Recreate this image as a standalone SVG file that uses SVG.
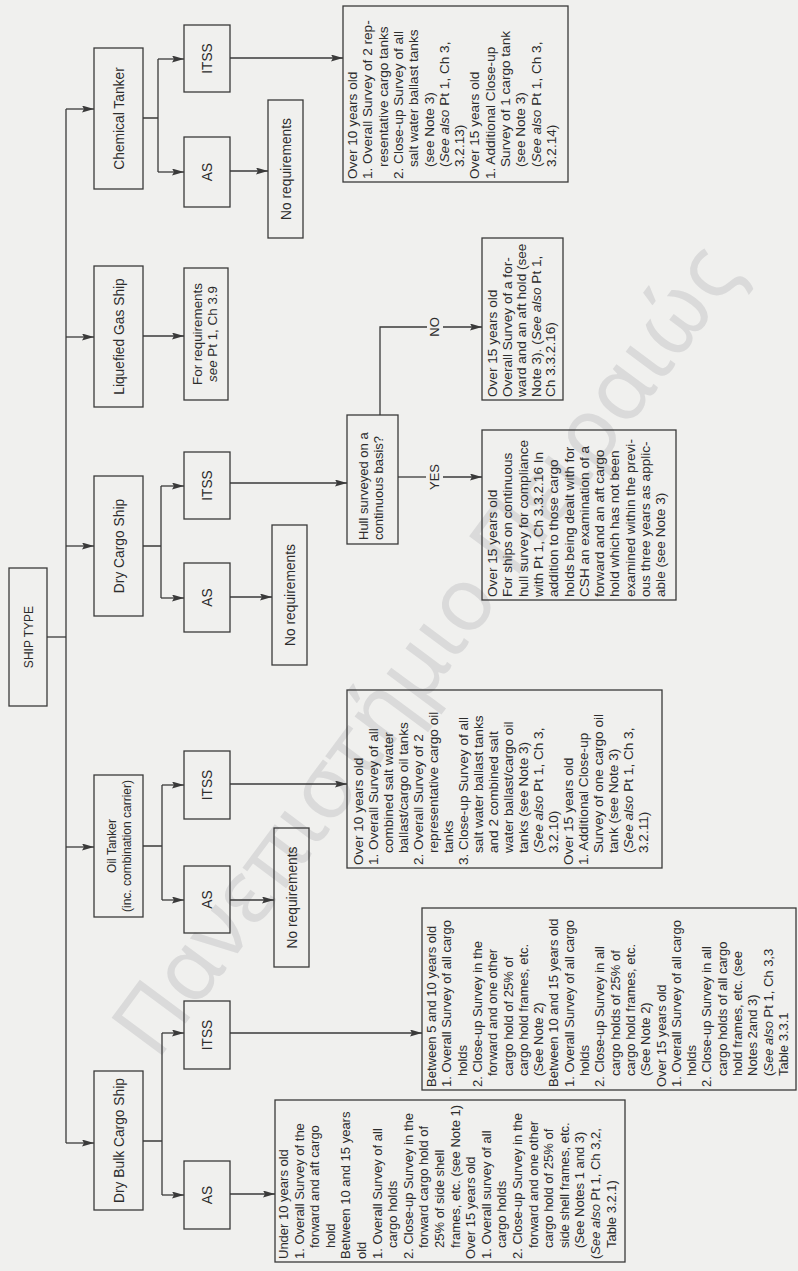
<svg xmlns="http://www.w3.org/2000/svg" width="798" height="1271" viewBox="0 0 798 1271">
  <style>
    .box{fill:none;stroke:#3a3a3a;stroke-width:1.3}
    .ln{fill:none;stroke:#3a3a3a;stroke-width:1.3}
    .arr{marker-end:url(#ah)}
    text{font-family:"Liberation Sans",Arial,sans-serif;fill:#2c2c2c}
    .lbl{font-size:13.8px;text-anchor:middle}
    .sm{font-size:12px;text-anchor:middle}
    .q{font-size:13px}
    .body{font-size:13.6px}
    .bodys{font-size:13px}
    .it{font-style:italic}
    .wm{font-family:"Noto Sans","DejaVu Sans",sans-serif;font-size:88px;fill:#dadada}
  </style>
  <defs>
    <marker id="ah" viewBox="0 0 12 7" refX="12" refY="3.5" markerWidth="12" markerHeight="7" markerUnits="userSpaceOnUse" orient="auto">
      <path d="M0,0 L12,3.5 L0,7 L2,3.5 z" fill="#3a3a3a"/>
    </marker>
  </defs>

  <rect x="0" y="0" width="798" height="1271" fill="#f0f0ee"/>
  <text class="wm" transform="translate(157 1062) rotate(-53.4)">Πανεπιστήμιο Πειραιώς</text>

  <!-- chart is laid out landscape and turned a quarter turn anticlockwise -->
  <g transform="translate(0 1271) rotate(-90)">

    <g id="connectors">
      <path class="ln" d="M634,47 V66"/>
      <path class="ln" d="M128,66 H1162"/>
      <path class="ln arr" d="M128,66 V94"/>
      <path class="ln arr" d="M424,66 V94"/>
      <path class="ln arr" d="M725,66 V94"/>
      <path class="ln arr" d="M934,66 V94"/>
      <path class="ln arr" d="M1162,66 V94"/>

      <!-- dry bulk -->
      <path class="ln" d="M130,143 V162 M76,162 H238"/>
      <path class="ln arr" d="M76,162 V184"/>
      <path class="ln arr" d="M238,162 V184"/>
      <path class="ln arr" d="M77,230 V275"/>
      <path class="ln arr" d="M238,230 V422"/>

      <!-- oil tanker -->
      <path class="ln" d="M425,143 V162 M371,162 H486"/>
      <path class="ln arr" d="M371,162 V184"/>
      <path class="ln arr" d="M486,162 V184"/>
      <path class="ln arr" d="M371,230 V274"/>
      <path class="ln arr" d="M487,230 V347"/>

      <!-- dry cargo -->
      <path class="ln" d="M725,143 V161 M673,161 H785"/>
      <path class="ln arr" d="M673,161 V184"/>
      <path class="ln arr" d="M785,161 V184"/>
      <path class="ln arr" d="M674,230 V272"/>
      <path class="ln arr" d="M788,230 V347"/>
      <path class="ln" d="M794,398 V426"/>
      <path class="ln arr" d="M794,443 V482"/>
      <path class="ln" d="M856,380 H944 V427"/>
      <path class="ln arr" d="M944,443 V482"/>

      <!-- liquefied gas -->
      <path class="ln arr" d="M935,143 V184"/>

      <!-- chemical -->
      <path class="ln" d="M1153,143 V158 M1099,158 H1212"/>
      <path class="ln arr" d="M1099,158 V184"/>
      <path class="ln arr" d="M1212,158 V184"/>
      <path class="ln arr" d="M1100,230 V268"/>
      <path class="ln arr" d="M1213,230 V343"/>

      <text class="q" x="794" y="439" text-anchor="middle">YES</text>
      <text class="q" x="944" y="439" text-anchor="middle">NO</text>
    </g>

    <g id="ship-type">
      <rect class="box" x="565" y="9" width="138" height="38"/>
      <text class="lbl" x="634" y="32.5" style="font-size:12px">SHIP TYPE</text>
    </g>

    <g id="dry-bulk">
      <rect class="box" x="61" y="94" width="139" height="49"/>
      <text class="lbl" x="130.5" y="123.5">Dry Bulk Cargo Ship</text>
    </g>
    <g id="oil-tanker">
      <rect class="box" x="354" y="94" width="142" height="49"/>
      <text class="sm" x="425" y="116">Oil Tanker</text>
      <text class="sm" x="425" y="131">(inc. combination carrier)</text>
    </g>
    <g id="dry-cargo">
      <rect class="box" x="655" y="94" width="140" height="49"/>
      <text class="lbl" x="725" y="123.5">Dry Cargo Ship</text>
    </g>
    <g id="liquefied-gas">
      <rect class="box" x="864" y="94" width="141" height="49"/>
      <text class="lbl" x="934.5" y="123.5">Liquefied Gas Ship</text>
    </g>
    <g id="chemical">
      <rect class="box" x="1082" y="94" width="141" height="49"/>
      <text class="lbl" x="1152.5" y="123.5">Chemical Tanker</text>
    </g>

    <g id="db-as">
      <rect class="box" x="42" y="184" width="68" height="46"/>
      <text class="lbl" x="76" y="212">AS</text>
    </g>
    <g id="db-itss">
      <rect class="box" x="202" y="184" width="68" height="46"/>
      <text class="lbl" x="236" y="212">ITSS</text>
    </g>
    <g id="oil-as">
      <rect class="box" x="338" y="184" width="67" height="46"/>
      <text class="lbl" x="371.5" y="212">AS</text>
    </g>
    <g id="oil-itss">
      <rect class="box" x="452" y="184" width="68" height="46"/>
      <text class="lbl" x="486" y="212">ITSS</text>
    </g>
    <g id="dc-as">
      <rect class="box" x="639" y="184" width="69" height="46"/>
      <text class="lbl" x="673.5" y="212">AS</text>
    </g>
    <g id="dc-itss">
      <rect class="box" x="752" y="184" width="67" height="46"/>
      <text class="lbl" x="785.5" y="212">ITSS</text>
    </g>
    <g id="lg-req">
      <rect class="box" x="871" y="184" width="132" height="44"/>
      <text class="lbl" x="937" y="202" style="font-size:13.4px">For requirements</text>
      <text class="lbl" x="937" y="217" style="font-size:13.4px"><tspan class="it">see</tspan> Pt 1, Ch 3.9</text>
    </g>
    <g id="chem-as">
      <rect class="box" x="1064" y="184" width="70" height="46"/>
      <text class="lbl" x="1099" y="212">AS</text>
    </g>
    <g id="chem-itss">
      <rect class="box" x="1179" y="184" width="67" height="46"/>
      <text class="lbl" x="1212.5" y="212">ITSS</text>
    </g>

    <g id="oil-noreq">
      <rect class="box" x="304" y="274" width="139" height="35"/>
      <text class="lbl" x="373.5" y="296.5">No requirements</text>
    </g>
    <g id="dc-noreq">
      <rect class="box" x="606" y="272" width="140" height="35"/>
      <text class="lbl" x="676" y="294.5">No requirements</text>
    </g>
    <g id="chem-noreq">
      <rect class="box" x="1033" y="268" width="138" height="35"/>
      <text class="lbl" x="1102" y="290.5">No requirements</text>
    </g>

    <g id="hull-question">
      <rect class="box" x="727" y="347" width="129" height="51"/>
      <text class="q" x="731" y="368">Hull surveyed on a</text>
      <text class="q" x="731" y="383">continuous basis?</text>
    </g>

    <g id="db-as-req">
      <rect class="box" x="9" y="275" width="162" height="350"/>
      <text class="bodys">
        <tspan x="12" y="288">Under 10 years old</tspan>
        <tspan x="12" dy="15.6">1. Overall Survey of the</tspan>
        <tspan x="23" dy="15.6">forward and aft cargo</tspan>
        <tspan x="23" dy="15.6">hold</tspan>
        <tspan x="12" dy="15.6">Between 10 and 15 years</tspan>
        <tspan x="12" dy="15.6">old</tspan>
        <tspan x="12" dy="15.6">1. Overall Survey of all</tspan>
        <tspan x="23" dy="15.6">cargo holds</tspan>
        <tspan x="12" dy="15.6">2. Close-up Survey in the</tspan>
        <tspan x="23" dy="15.6">forward cargo hold of</tspan>
        <tspan x="23" dy="15.6">25% of side shell</tspan>
        <tspan x="23" dy="15.6">frames, etc. (see Note 1)</tspan>
        <tspan x="12" dy="15.6">Over 15 years old</tspan>
        <tspan x="12" dy="15.6">1. Overall survey of all</tspan>
        <tspan x="23" dy="15.6">cargo holds</tspan>
        <tspan x="12" dy="15.6">2. Close-up Survey in the</tspan>
        <tspan x="23" dy="15.6">forward and one other</tspan>
        <tspan x="23" dy="15.6">cargo hold of 25% of</tspan>
        <tspan x="23" dy="15.6">side shell frames, etc.</tspan>
        <tspan x="23" dy="15.6">(See Notes 1 and 3)</tspan>
        <tspan x="12" dy="15.6">(<tspan class="it">See also</tspan> Pt 1, Ch 3,2,</tspan>
        <tspan x="23" dy="15.6">Table 3.2.1)</tspan>
      </text>
    </g>

    <g id="db-itss-req">
      <rect class="box" x="181" y="422" width="182" height="374"/>
      <text class="bodys">
        <tspan x="184" y="436">Between 5 and 10 years old</tspan>
        <tspan x="184" dy="15.3">1. Overall Survey of all cargo</tspan>
        <tspan x="195" dy="15.3">holds</tspan>
        <tspan x="184" dy="15.3">2. Close-up Survey in the</tspan>
        <tspan x="195" dy="15.3">forward and one other</tspan>
        <tspan x="195" dy="15.3">cargo hold of 25% of</tspan>
        <tspan x="195" dy="15.3">cargo hold frames, etc.</tspan>
        <tspan x="195" dy="15.3">(See Note 2)</tspan>
        <tspan x="184" dy="15.3">Between 10 and 15 years old</tspan>
        <tspan x="184" dy="15.3">1. Overall Survey of all cargo</tspan>
        <tspan x="195" dy="15.3">holds</tspan>
        <tspan x="184" dy="15.3">2. Close-up Survey in all</tspan>
        <tspan x="195" dy="15.3">cargo holds of 25% of</tspan>
        <tspan x="195" dy="15.3">cargo hold frames, etc.</tspan>
        <tspan x="195" dy="15.3">(See Note 2)</tspan>
        <tspan x="184" dy="15.3">Over 15 years old</tspan>
        <tspan x="184" dy="15.3">1. Overall Survey of all cargo</tspan>
        <tspan x="195" dy="15.3">holds</tspan>
        <tspan x="184" dy="15.3">2. Close-up Survey in all</tspan>
        <tspan x="195" dy="15.3">cargo holds of all cargo</tspan>
        <tspan x="195" dy="15.3">hold frames, etc. (see</tspan>
        <tspan x="195" dy="15.3">Notes 2and 3)</tspan>
        <tspan x="195" dy="15.3">(<tspan class="it">See also</tspan> Pt 1, Ch 3,3</tspan>
        <tspan x="195" dy="15.3">Table 3.3.1</tspan>
      </text>
    </g>

    <g id="oil-itss-req">
      <rect class="box" x="403" y="347" width="178" height="315"/>
      <text class="body">
        <tspan x="406" y="363">Over 10 years old</tspan>
        <tspan x="406" dy="15">1. Overall Survey of all</tspan>
        <tspan x="418" dy="15">combined salt water</tspan>
        <tspan x="418" dy="15">ballast/cargo oil tanks</tspan>
        <tspan x="406" dy="15">2. Overall Survey of 2</tspan>
        <tspan x="418" dy="15">representative cargo oil</tspan>
        <tspan x="418" dy="15">tanks</tspan>
        <tspan x="406" dy="15">3. Close-up Survey of all</tspan>
        <tspan x="418" dy="15">salt water ballast tanks</tspan>
        <tspan x="418" dy="15">and 2 combined salt</tspan>
        <tspan x="418" dy="15">water ballast/cargo oil</tspan>
        <tspan x="418" dy="15">tanks (see Note 3)</tspan>
        <tspan x="418" dy="15">(<tspan class="it">See also</tspan> Pt 1, Ch 3,</tspan>
        <tspan x="418" dy="15">3.2.10)</tspan>
        <tspan x="406" dy="15">Over 15 years old</tspan>
        <tspan x="406" dy="15">1. Additional Close-up</tspan>
        <tspan x="418" dy="15">Survey of one cargo oil</tspan>
        <tspan x="418" dy="15">tank (see Note 3)</tspan>
        <tspan x="418" dy="15">(<tspan class="it">See also</tspan> Pt 1, Ch 3,</tspan>
        <tspan x="418" dy="15">3.2.11)</tspan>
      </text>
    </g>

    <g id="csh-yes">
      <rect class="box" x="671" y="482" width="170" height="194"/>
      <text class="body">
        <tspan x="674" y="497">Over 15 years old</tspan>
        <tspan x="674" dy="15.3">For ships on continuous</tspan>
        <tspan x="674" dy="15.3">hull survey for compliance</tspan>
        <tspan x="674" dy="15.3">with Pt 1, Ch 3.3.2.16 In</tspan>
        <tspan x="674" dy="15.3">addition to those cargo</tspan>
        <tspan x="674" dy="15.3">holds being dealt with for</tspan>
        <tspan x="674" dy="15.3">CSH an examination of a</tspan>
        <tspan x="674" dy="15.3">forward and an aft cargo</tspan>
        <tspan x="674" dy="15.3">hold which has not been</tspan>
        <tspan x="674" dy="15.3">examined within the previ-</tspan>
        <tspan x="674" dy="15.3">ous three years as applic-</tspan>
        <tspan x="674" dy="15.3">able (see Note 3)</tspan>
      </text>
    </g>

    <g id="csh-no">
      <rect class="box" x="871" y="482" width="162" height="81"/>
      <text class="body">
        <tspan x="874" y="497">Over 15 years old</tspan>
        <tspan x="874" dy="14.6">Overall Survey of a for-</tspan>
        <tspan x="874" dy="14.6">ward and an aft hold (see</tspan>
        <tspan x="874" dy="14.6">Note 3).  (<tspan class="it">See also</tspan> Pt 1,</tspan>
        <tspan x="874" dy="14.6">Ch 3.3.2.16)</tspan>
      </text>
    </g>

    <g id="chem-itss-req">
      <rect class="box" x="1089" y="343" width="176" height="225"/>
      <text class="body">
        <tspan x="1092" y="357">Over 10 years old</tspan>
        <tspan x="1092" dy="15.3">1. Overall Survey of 2 rep-</tspan>
        <tspan x="1104" dy="15.3">resentative cargo tanks</tspan>
        <tspan x="1092" dy="15.3">2. Close-up Survey of all</tspan>
        <tspan x="1104" dy="15.3">salt water ballast tanks</tspan>
        <tspan x="1104" dy="15.3">(see Note 3)</tspan>
        <tspan x="1104" dy="15.3">(<tspan class="it">See also</tspan> Pt 1, Ch 3,</tspan>
        <tspan x="1104" dy="15.3">3.2.13)</tspan>
        <tspan x="1092" dy="15.3">Over 15 years old</tspan>
        <tspan x="1092" dy="15.3">1. Additional Close-up</tspan>
        <tspan x="1104" dy="15.3">Survey of 1 cargo tank</tspan>
        <tspan x="1104" dy="15.3">(see Note 3)</tspan>
        <tspan x="1104" dy="15.3">(<tspan class="it">See also</tspan> Pt 1, Ch 3,</tspan>
        <tspan x="1104" dy="15.3">3.2.14)</tspan>
      </text>
    </g>
  </g>
</svg>
